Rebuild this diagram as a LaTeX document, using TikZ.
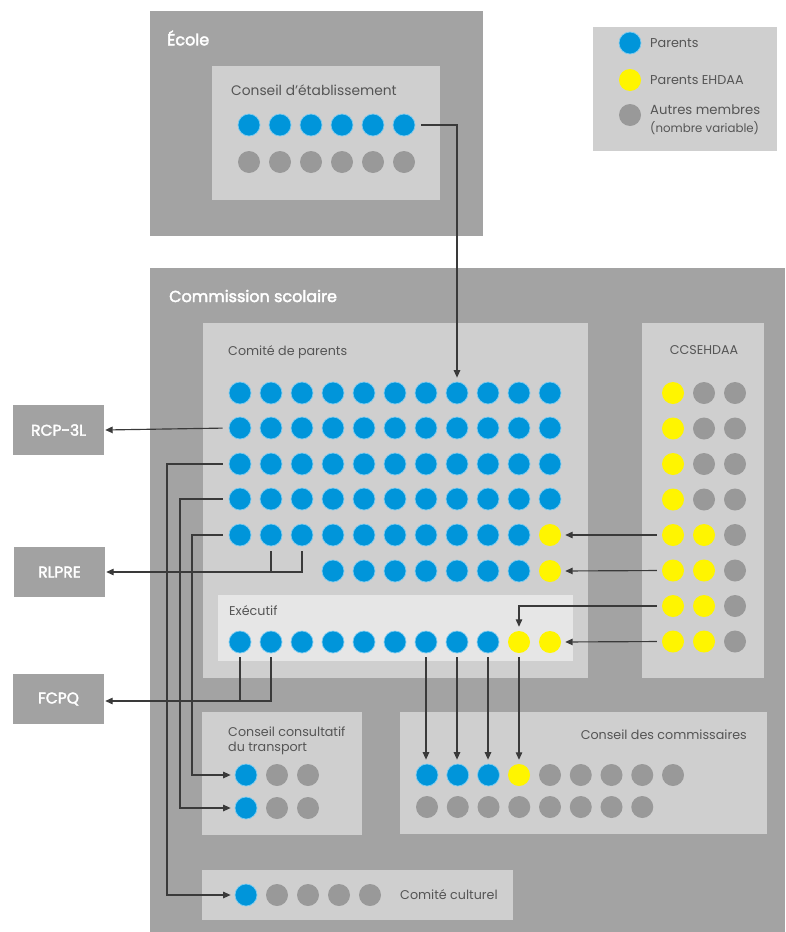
\documentclass[tikz,border=0pt]{standalone}
\usepackage{fontspec}
\setmainfont{Poppins}
\newfontfamily\headfont[FakeBold=2.5]{Poppins}
\usetikzlibrary{arrows.meta}
\definecolor{boxdark}{HTML}{A3A3A3}
\definecolor{boxlight}{HTML}{CFCFCF}
\definecolor{boxexec}{HTML}{E6E6E6}
\definecolor{sidebox}{HTML}{A2A2A2}
\definecolor{dotblue}{HTML}{0095DA}
\definecolor{dothalo}{HTML}{7CCBF0}
\definecolor{dotyellow}{HTML}{FFF500}
\definecolor{dotgray}{HTML}{999999}
\definecolor{txtgray}{HTML}{555555}
\definecolor{arrowc}{HTML}{3A3A3A}
\begin{document}
\begin{tikzpicture}[x=1pt,y=-1pt,
  dot/.style={circle, inner sep=0pt, minimum size=22pt},
  pdot/.style={dot, fill=dotblue, draw=dothalo, line width=0.7pt},
  ydot/.style={dot, fill=dotyellow},
  gdot/.style={dot, fill=dotgray},
  title/.style={anchor=west, inner sep=0pt, text=white, font=\headfont\fontsize{16}{18}\selectfont},
  label/.style={anchor=west, inner sep=0pt, text=txtgray, font=\fontsize{12.7}{15}\selectfont},
  sidenode/.style={fill=sidebox, minimum width=91pt, minimum height=50pt, inner sep=0pt, text=white, font=\headfont\fontsize{15.5}{17}\selectfont},
  conn/.style={draw=arrowc, line width=1.15pt},
  arr/.style={conn, -{Triangle[length=7.5pt,width=6.5pt]}},
]
\useasboundingbox (0,0) rectangle (785,932);

% ---------- boxes ----------
\fill[boxdark] (150,11) rectangle (483,236);
\fill[boxlight] (212,66) rectangle (440,200);
\fill[boxlight] (593,27) rectangle (777,151);
\fill[boxdark] (150,268) rectangle (785,932);
\fill[boxlight] (203,323) rectangle (588,678);
\fill[boxlight] (642,323) rectangle (764,678);
\fill[boxexec] (218,595) rectangle (573,661);
\fill[boxlight] (202,712) rectangle (362,835);
\fill[boxlight] (400,712) rectangle (767,834);
\fill[boxlight] (202,870) rectangle (513,920);

% ---------- titles ----------
\node[title] (tecole) at (167,38) {École};
\node[label, font=\fontsize{13.8}{16}\selectfont] (tcde) at (231,90) {Conseil d’établissement};
\node[title] (tcs) at (169,296) {Commission scolaire};
\node[label] (tcp) at (228,352) {Comité de parents};
\node[label, anchor=center] (tccs) at (704,350) {CCSEHDAA};
\node[label] (texec) at (229,611) {Exécutif};
\node[label, align=left, font=\fontsize{12.7}{15}\selectfont] (tcct) at (228,741) {Conseil consultatif\\du transport};
\node[label, anchor=east] (tcom) at (747,735) {Conseil des commissaires};
\node[label] (tcc) at (400,895) {Comité culturel};

% ---------- legend ----------
\node[pdot] (lg1) at (630,43) {};
\node[ydot] (lg2) at (630,80) {};
\node[gdot] (lg3) at (630,115) {};
\node[label, font=\fontsize{12.8}{15}\selectfont] (lt1) at (650,43) {Parents};
\node[label, font=\fontsize{12.8}{15}\selectfont] (lt2) at (650,80) {Parents EHDAA};
\node[label, font=\fontsize{13.2}{15}\selectfont] (lt3) at (650,110) {Autres membres};
\node[label, font=\fontsize{11.8}{13}\selectfont] (lt4) at (650,128) {(nombre variable)};

% ---------- side boxes ----------
\node[sidenode] (rcp) at (58.5,430) {RCP-3L};
\node[sidenode] (rlpre) at (59.5,572) {RLPRE};
\node[sidenode] (fcpq) at (58.5,699) {FCPQ};

% ---------- Conseil d'établissement ----------
\foreach \c in {1,...,6}{
  \node[pdot] (cde-1-\c) at ({249+31*(\c-1)},125) {};
  \node[gdot] (cde-2-\c) at ({249+31*(\c-1)},162) {};
}

% ---------- Comité de parents ----------
\foreach \r/\y in {1/393,2/428,3/464,4/499}{
  \foreach \c in {1,...,11}{
    \node[pdot] (cp-\r-\c) at ({240+31*(\c-1)},\y) {};
  }
}
\foreach \c in {1,...,10}{\node[pdot] (cp-5-\c) at ({240+31*(\c-1)},535) {};}
\node[ydot] (cp-5-11) at (550,535) {};
\foreach \c in {4,...,10}{\node[pdot] (cp-6-\c) at ({240+31*(\c-1)},571) {};}
\node[ydot] (cp-6-11) at (550,571) {};

% ---------- Exécutif ----------
\foreach \c in {1,...,9}{\node[pdot] (e-\c) at ({240+31*(\c-1)},642) {};}
\node[ydot] (e-10) at (519,642) {};
\node[ydot] (e-11) at (550,642) {};

% ---------- CCSEHDAA ----------
\foreach \r in {1,...,8}{
  \node[ydot] (cs-\r-1) at (673,{393+35.5*(\r-1)}) {};
  \node[gdot] (cs-\r-3) at (735,{393+35.5*(\r-1)}) {};
}
\foreach \r in {1,...,4}{\node[gdot] (cs-\r-2) at (704,{393+35.5*(\r-1)}) {};}
\foreach \r in {5,...,8}{\node[ydot] (cs-\r-2) at (704,{393+35.5*(\r-1)}) {};}

% ---------- Conseil consultatif du transport ----------
\foreach \r/\y in {1/775,2/808}{
  \node[pdot] (cct-\r-1) at (246,\y) {};
  \node[gdot] (cct-\r-2) at (277,\y) {};
  \node[gdot] (cct-\r-3) at (308,\y) {};
}

% ---------- Conseil des commissaires ----------
\foreach \c in {1,...,3}{\node[pdot] (com-1-\c) at ({427+30.75*(\c-1)},775) {};}
\node[ydot] (com-1-4) at (519,775) {};
\foreach \c in {5,...,9}{\node[gdot] (com-1-\c) at ({427+30.75*(\c-1)},775) {};}
\foreach \c in {1,...,8}{\node[gdot] (com-2-\c) at ({427+30.75*(\c-1)},807) {};}

% ---------- Comité culturel ----------
\node[pdot] (cc-1) at (246,895) {};
\foreach \c in {2,...,5}{\node[gdot] (cc-\c) at ({246+31*(\c-1)},895) {};}

% ---------- lanes ----------
\coordinate (laneA) at (167,0);
\coordinate (laneB) at (180,0);
\coordinate (laneC) at (192,0);
\coordinate (lvlF) at (0,701);

% ---------- connectors ----------
\draw[arr, shorten <=6pt, shorten >=4pt] (cde-1-6.east) -| (cp-1-8.north);
\draw[arr, shorten <=6pt, shorten >=1pt] (cp-2-1.west) -- (rcp.east);
\draw[arr, shorten <=6pt, shorten >=4pt] (cp-3-1.west) -| (laneA |- cc-1.west) -- (cc-1.west);
\draw[arr, shorten <=6pt, shorten >=4pt] (cp-4-1.west) -| (laneB |- cct-2-1.west) -- (cct-2-1.west);
\draw[arr, shorten <=6pt, shorten >=4pt] (cp-5-1.west) -| (laneC |- cct-1-1.west) -- (cct-1-1.west);
\draw[conn, shorten <=5pt] (cp-5-2.south) -- (cp-5-2 |- rlpre.east);
\draw[arr, shorten <=5pt, shorten >=1pt] (cp-5-3.south) |- (rlpre.east);
\draw[conn, shorten <=4pt] (e-1.south) -- (e-1 |- lvlF);
\draw[arr, shorten <=4pt, shorten >=1pt] (e-2.south) |- (lvlF -| fcpq.east);
\draw[arr, shorten <=5pt, shorten >=4pt] (cs-5-1.west) -- (cp-5-11.east);
\draw[arr, shorten <=5pt, shorten >=4pt] (cs-6-1.west) -- (cp-6-11.east);
\draw[arr, shorten <=5pt, shorten >=4pt] (cs-7-1.west) -| (e-10.north);
\draw[arr, shorten <=5pt, shorten >=4pt] (cs-8-1.west) -- (e-11.east);
\foreach \a/\b in {7/1,8/2,9/3,10/4}{
  \draw[arr, shorten <=4pt, shorten >=4pt] (e-\a.south) -- (e-\a.south |- com-1-\b.north);
}
\end{tikzpicture}
\end{document}
